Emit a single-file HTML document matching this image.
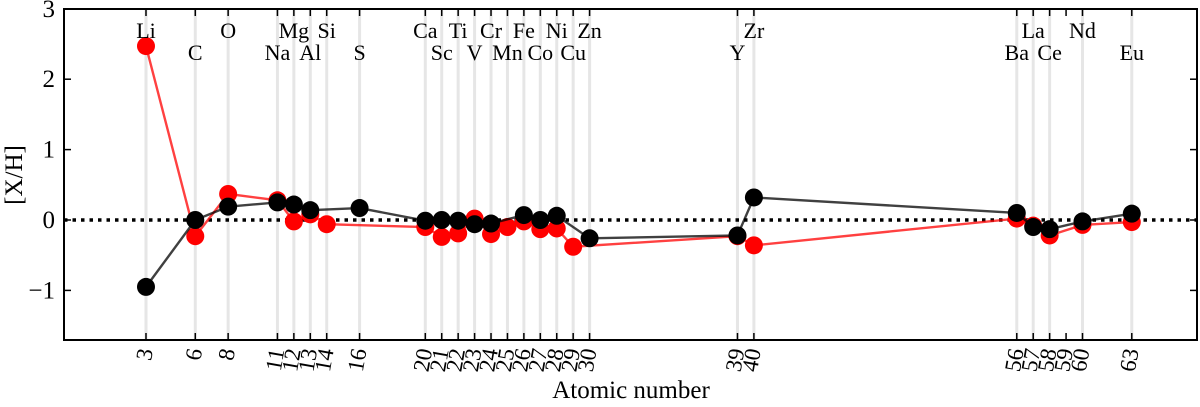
<!DOCTYPE html>
<html><head><meta charset="utf-8"><style>
body{margin:0;background:#fff}
svg text{font-family:"Liberation Serif",serif;fill:#000}
</style></head><body>
<svg id="c" width="1200" height="402"></svg>
<script>
const tickZ=[3,6,8,11,12,13,14,16,20,21,22,23,24,25,26,27,28,29,30,39,40,56,57,58,59,60,63];
const labelTop=[["Li",3],["O",8],["Mg",12],["Si",14],["Ca",20],["Ti",22],["Cr",24],["Fe",26],["Ni",28],["Zn",30],["Zr",40],["La",57],["Nd",60]];
const labelBot=[["C",6],["Na",11],["Al",13],["S",16],["Sc",21],["V",23],["Mn",25],["Co",27],["Cu",29],["Y",39],["Ba",56],["Ce",58],["Eu",63]];
const redZ=[3,6,8,11,12,13,14,20,21,22,23,24,25,26,27,28,29,39,40,56,57,58,60,63];
const redV=[2.47,-0.23,0.37,0.28,-0.02,0.08,-0.06,-0.1,-0.24,-0.19,0.02,-0.2,-0.1,-0.02,-0.13,-0.12,-0.38,-0.23,-0.36,0.02,-0.08,-0.22,-0.07,-0.03];
const blkZ=[3,6,8,11,12,13,16,20,21,22,23,24,26,27,28,30,39,40,56,57,58,60,63];
const blkV=[-0.95,0,0.19,0.25,0.22,0.14,0.17,-0.01,0,-0.01,-0.06,-0.05,0.07,0,0.06,-0.26,-0.22,0.32,0.1,-0.1,-0.13,-0.02,0.09];
const yTicks=[-1,0,1,2,3];
const L=64,R=1197,T=9,B=340;
const X=z=>96.7+z*16.43;
const Y=v=>220-v*70.4;
const s=document.getElementById('c');const NS='http://www.w3.org/2000/svg';
function mk(t,a,p){const e=document.createElementNS(NS,t);for(const k in a)e.setAttribute(k,a[k]);(p||s).appendChild(e);return e;}
tickZ.forEach(z=>{if(z===59)return;
const g=mk('line',{x1:X(z),x2:X(z),y1:T,y2:B,stroke:'#e6e6e6','stroke-width':3});

});
const zl=mk('line',{x1:L,x2:R,y1:Y(0),y2:Y(0),stroke:'#000','stroke-width':3.5,'stroke-dasharray':'3.5,5'});


function series(zs,vs,col,name){
const pl=mk('polyline',{points:zs.map((z,i)=>X(z)+','+Y(vs[i])).join(' '),fill:'none',stroke:col,'stroke-width':2.4,opacity:0.75});


zs.forEach((z,i)=>{const c=mk('circle',{cx:X(z),cy:Y(vs[i]),r:9,fill:col});

});}
series(redZ,redV,'#ff0000','red-series');
series(blkZ,blkV,'#000000','black-series');
const fr=mk('rect',{x:L,y:T,width:R-L,height:B-T,fill:'none',stroke:'#000','stroke-width':2});


tickZ.forEach(z=>{mk('line',{x1:X(z),x2:X(z),y1:B,y2:B-7,stroke:'#000','stroke-width':1.5});
mk('line',{x1:X(z),x2:X(z),y1:T,y2:T+7,stroke:'#000','stroke-width':1.5});
const t=mk('text',{x:0,y:0,'font-size':23,'text-anchor':'end',transform:`translate(${X(z)+7},${B+10}) rotate(-80)`});
t.textContent=z;

});
yTicks.forEach(v=>{mk('line',{x1:L,x2:L+7,y1:Y(v),y2:Y(v),stroke:'#000','stroke-width':1.5});
mk('line',{x1:R,x2:R-7,y1:Y(v),y2:Y(v),stroke:'#000','stroke-width':1.5});
const t=mk('text',{x:L-9,y:Y(v)+8,'font-size':25,'text-anchor':'end'});
t.textContent=v<0?'\u2212'+(-v):v;

});
function labs(arr,y){arr.forEach(([n,z])=>{const t=mk('text',{x:X(z),y:y,'font-size':22,'text-anchor':'middle'});
t.textContent=n;

});}
labs(labelTop,38);labs(labelBot,60);
const xt=mk('text',{x:631,y:398,'font-size':25,'text-anchor':'middle'});xt.textContent='Atomic number';


const yt=mk('text',{x:0,y:0,'font-size':25,'text-anchor':'middle',transform:'translate(22,175) rotate(-90)'});yt.textContent='[X/H]';


</script>
</body></html>
